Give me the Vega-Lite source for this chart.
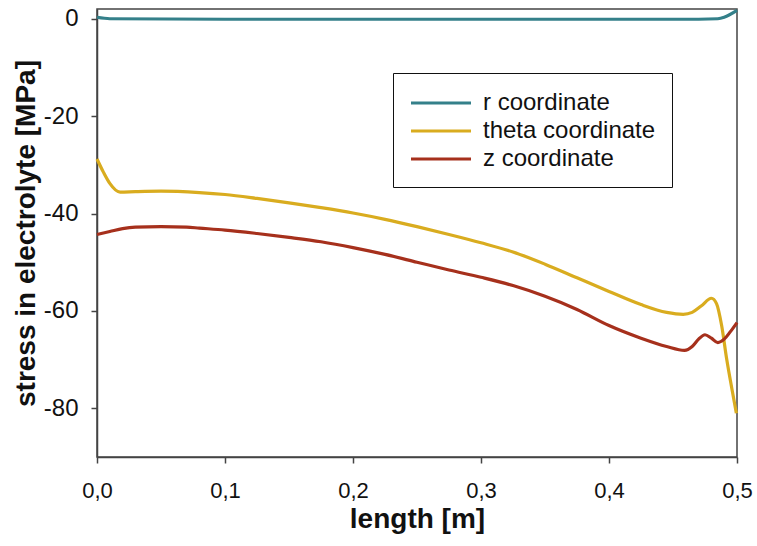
{
  "$schema": "https://vega.github.io/schema/vega-lite/v6.json",
  "width": 640,
  "height": 448,
  "autosize": "none",
  "padding": {"left": 97, "top": 9, "right": 20, "bottom": 89},
  "background": "white",
  "config": {
    "font": "Liberation Sans",
    "view": {"stroke": "#444444", "strokeWidth": 1.5}
  },
  "datasets": {
    "d": [
      {"x": 0.0, "v": 0.3, "s": "r coordinate"},
      {"x": 0.01, "v": 0.0, "s": "r coordinate"},
      {"x": 0.1, "v": -0.1, "s": "r coordinate"},
      {"x": 0.3, "v": -0.1, "s": "r coordinate"},
      {"x": 0.47, "v": -0.1, "s": "r coordinate"},
      {"x": 0.485, "v": 0.0, "s": "r coordinate"},
      {"x": 0.49, "v": 0.3, "s": "r coordinate"},
      {"x": 0.5, "v": 1.7, "s": "r coordinate"},

      {"x": 0.0, "v": -28.8, "s": "theta coordinate"},
      {"x": 0.005, "v": -31.5, "s": "theta coordinate"},
      {"x": 0.01, "v": -33.8, "s": "theta coordinate"},
      {"x": 0.018, "v": -35.6, "s": "theta coordinate"},
      {"x": 0.03, "v": -35.5, "s": "theta coordinate"},
      {"x": 0.05, "v": -35.4, "s": "theta coordinate"},
      {"x": 0.08, "v": -35.7, "s": "theta coordinate"},
      {"x": 0.1, "v": -36.1, "s": "theta coordinate"},
      {"x": 0.125, "v": -36.9, "s": "theta coordinate"},
      {"x": 0.15, "v": -37.8, "s": "theta coordinate"},
      {"x": 0.175, "v": -38.8, "s": "theta coordinate"},
      {"x": 0.2, "v": -39.9, "s": "theta coordinate"},
      {"x": 0.225, "v": -41.2, "s": "theta coordinate"},
      {"x": 0.25, "v": -42.7, "s": "theta coordinate"},
      {"x": 0.275, "v": -44.3, "s": "theta coordinate"},
      {"x": 0.3, "v": -46.0, "s": "theta coordinate"},
      {"x": 0.325, "v": -47.9, "s": "theta coordinate"},
      {"x": 0.35, "v": -50.4, "s": "theta coordinate"},
      {"x": 0.375, "v": -53.2, "s": "theta coordinate"},
      {"x": 0.4, "v": -56.0, "s": "theta coordinate"},
      {"x": 0.425, "v": -58.7, "s": "theta coordinate"},
      {"x": 0.445, "v": -60.3, "s": "theta coordinate"},
      {"x": 0.458, "v": -60.7, "s": "theta coordinate"},
      {"x": 0.465, "v": -60.3, "s": "theta coordinate"},
      {"x": 0.472, "v": -59.0, "s": "theta coordinate"},
      {"x": 0.48, "v": -57.4, "s": "theta coordinate"},
      {"x": 0.484, "v": -58.5, "s": "theta coordinate"},
      {"x": 0.488, "v": -63.0, "s": "theta coordinate"},
      {"x": 0.492, "v": -70.0, "s": "theta coordinate"},
      {"x": 0.496, "v": -76.0, "s": "theta coordinate"},
      {"x": 0.4995, "v": -81.0, "s": "theta coordinate"},

      {"x": 0.0, "v": -44.3, "s": "z coordinate"},
      {"x": 0.01, "v": -43.7, "s": "z coordinate"},
      {"x": 0.02, "v": -43.1, "s": "z coordinate"},
      {"x": 0.03, "v": -42.8, "s": "z coordinate"},
      {"x": 0.05, "v": -42.7, "s": "z coordinate"},
      {"x": 0.07, "v": -42.8, "s": "z coordinate"},
      {"x": 0.08, "v": -43.0, "s": "z coordinate"},
      {"x": 0.1, "v": -43.4, "s": "z coordinate"},
      {"x": 0.125, "v": -44.1, "s": "z coordinate"},
      {"x": 0.15, "v": -44.9, "s": "z coordinate"},
      {"x": 0.175, "v": -45.8, "s": "z coordinate"},
      {"x": 0.2, "v": -47.0, "s": "z coordinate"},
      {"x": 0.225, "v": -48.4, "s": "z coordinate"},
      {"x": 0.25, "v": -50.0, "s": "z coordinate"},
      {"x": 0.275, "v": -51.6, "s": "z coordinate"},
      {"x": 0.3, "v": -53.1, "s": "z coordinate"},
      {"x": 0.325, "v": -54.8, "s": "z coordinate"},
      {"x": 0.35, "v": -57.0, "s": "z coordinate"},
      {"x": 0.375, "v": -59.7, "s": "z coordinate"},
      {"x": 0.4, "v": -63.0, "s": "z coordinate"},
      {"x": 0.425, "v": -65.6, "s": "z coordinate"},
      {"x": 0.445, "v": -67.3, "s": "z coordinate"},
      {"x": 0.459, "v": -68.1, "s": "z coordinate"},
      {"x": 0.465, "v": -67.3, "s": "z coordinate"},
      {"x": 0.47, "v": -65.8, "s": "z coordinate"},
      {"x": 0.475, "v": -64.9, "s": "z coordinate"},
      {"x": 0.48, "v": -65.6, "s": "z coordinate"},
      {"x": 0.485, "v": -66.5, "s": "z coordinate"},
      {"x": 0.49, "v": -65.8, "s": "z coordinate"},
      {"x": 0.495, "v": -64.2, "s": "z coordinate"},
      {"x": 0.5, "v": -62.4, "s": "z coordinate"}
    ]
  },
  "data": {"name": "d"},
  "mark": {"type": "line", "strokeWidth": 3.2, "interpolate": "monotone", "clip": false},
  "encoding": {
    "x": {
      "field": "x",
      "type": "quantitative",
      "scale": {"domain": [0, 0.5], "nice": false, "zero": false},
      "axis": {
        "title": "length [m]",
        "values": [0, 0.1, 0.2, 0.3, 0.4, 0.5],
        "labelExpr": "replace(format(datum.value, '.1f'), '.', ',')",
        "grid": false,
        "domainColor": "#444444",
        "domainWidth": 1.5,
        "tickColor": "#444444",
        "tickWidth": 1.5,
        "tickSize": 6,
        "labelPadding": 17,
        "labelFontSize": 22,
        "labelColor": "#111111",
        "labelFlush": false,
        "titleFontSize": 28,
        "titleFontWeight": "bold",
        "titleColor": "#111111",
        "titlePadding": 4
      }
    },
    "y": {
      "field": "v",
      "type": "quantitative",
      "scale": {"domain": [-90, 2], "nice": false, "zero": false},
      "axis": {
        "title": "stress in electrolyte [MPa]",
        "values": [0, -20, -40, -60, -80],
        "labelExpr": "'' + datum.value",
        "grid": false,
        "domainColor": "#444444",
        "domainWidth": 1.5,
        "tickColor": "#444444",
        "tickWidth": 1.5,
        "tickSize": 6,
        "labelPadding": 13,
        "labelFontSize": 24,
        "labelColor": "#111111",
        "titleFontSize": 28,
        "titleFontWeight": "bold",
        "titleColor": "#111111",
        "titlePadding": 3
      }
    },
    "color": {
      "field": "s",
      "type": "nominal",
      "scale": {
        "domain": ["r coordinate", "theta coordinate", "z coordinate"],
        "range": ["#34808a", "#d9ac1f", "#a6301c"]
      },
      "legend": {
        "title": null,
        "orient": "none",
        "legendX": 296,
        "legendY": 64,
        "symbolType": "M-1,0H4",
        "symbolSize": 576,
        "symbolStrokeWidth": 3.2,
        "labelFontSize": 24,
        "labelLimit": 400,
        "labelColor": "#111111",
        "labelOffset": 46,
        "rowPadding": 2,
        "padding": 16,
        "strokeColor": "#111111",
        "fillColor": "white"
      }
    }
  }
}
